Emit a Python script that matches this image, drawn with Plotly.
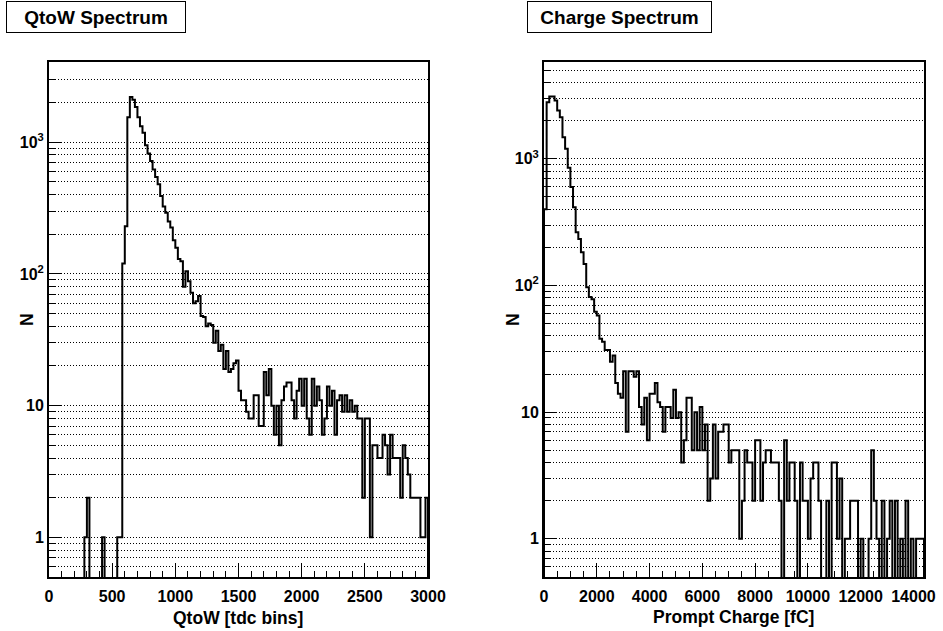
import numpy as np
import plotly.graph_objects as go

# ---------------- data ----------------
QTOW_BIN_WIDTH = 20          # tdc bins per histogram bin, 0..3000
QTOW_COUNTS = [
    0, 0, 0, 0, 0, 0, 0, 0, 0, 0, 0, 0, 0, 0,          # 0 - 260
    1, 2, 0, 0, 0, 0, 0, 1, 0, 0, 0, 0, 0, 1, 1,       # 280 - 560
    120, 230, 1550, 2200, 2100, 1850, 1550, 1320, 1180, 950,   # 580 - 760
    820, 720, 620, 545, 480, 390, 325, 292, 250, 225,          # 780 - 960
    180, 158, 130, 125, 80, 105, 88, 72, 60, 62,               # 980 - 1160
    68, 48, 47, 40, 42, 41, 30, 37, 26, 29,                    # 1180 - 1360
    19, 26, 18, 19, 21, 22, 13, 11, 11, 9,                     # 1380 - 1560
    8, 8, 12, 12, 7, 7, 18, 12, 19, 10,                        # 1580 - 1760
    6, 10, 5, 11, 14, 15, 15, 11, 8, 13,                       # 1780 - 1960
    16, 10, 16, 8, 6, 16, 10, 14, 11, 6,                       # 1980 - 2160
    8, 14, 10, 13, 6, 11, 12, 9, 12, 9,                        # 2180 - 2360
    11, 9, 10, 8, 8, 2, 8, 8, 1, 5,                            # 2380 - 2560
    5, 4, 4, 6, 5, 3, 6, 4, 4, 4,                              # 2580 - 2760
    2, 5, 4, 3, 2, 2, 2, 2, 1, 1, 2,                           # 2780 - 2980
]

CHARGE_BIN_WIDTH = 100       # fC per histogram bin, 0..14400
CHARGE_COUNTS = [
    400, 2800, 3100, 3100, 2880, 2400, 2130, 1480, 1200, 850,  # 0 - 900
    600, 415, 263, 233, 183, 148, 97, 81, 78, 62,              # 1000 - 1900
    58, 38, 36, 31, 31, 25, 28, 17, 14, 13,                    # 2000 - 2900
    21, 7, 21, 21, 19, 21, 11, 8, 13, 6,                       # 3000 - 3900
    14, 14, 17, 12, 11, 7, 11, 11, 9, 15,                      # 4000 - 4900
    9, 10, 4, 6, 13, 13, 5, 10, 5, 11,                         # 5000 - 5900
    5, 8, 2, 3, 8, 3, 7, 7, 8, 8,                              # 6000 - 6900
    4, 5, 5, 5, 1, 2, 5, 4, 4, 2,                              # 7000 - 7900
    6, 6, 2, 4, 5, 5, 4, 4, 4, 2,                              # 8000 - 8900
    0, 6, 2, 4, 4, 2, 0, 4, 2, 2,                              # 9000 - 9900
    1, 3, 4, 4, 2, 0, 0, 2, 0, 4,                              # 10000 - 10900
    4, 1, 3, 0, 1, 1, 2, 2, 2, 0,                              # 11000 - 11900
    1, 0, 0, 1, 5, 2, 1, 0, 2, 0,                              # 12000 - 12900
    1, 2, 0, 2, 0, 1, 0, 2, 0, 1,                              # 13000 - 13900
    0, 1, 1, 1,                                                # 14000 - 14300
]

QTOW_XTICKS = [0, 500, 1000, 1500, 2000, 2500, 3000]
CHARGE_XTICKS = [0, 2000, 4000, 6000, 8000, 10000, 12000, 14000]
Y_MAJOR = [1, 10, 100, 1000]
Y_MAJOR_TEXT = ["1", "10", "10<sup>2</sup>", "10<sup>3</sup>"]
Y_MINOR = [m * 10.0 ** k for k in range(-1, 4) for m in range(2, 10)]

# ---------------- helpers ----------------
FLOOR = 0.1  # empty bins drop below the visible range, as in ROOT


def step_xy(counts, width):
    edges = np.arange(len(counts) + 1) * width
    y = [c if c > 0 else FLOOR for c in counts]
    xs = [edges[0]] + list(edges) + [edges[-1]]
    ys = [FLOOR] + y + [y[-1], FLOOR]
    return xs, ys


W, H = 943, 631
FONT = "Liberation Sans, Arial, sans-serif"

fig = go.Figure()

qx, qy = step_xy(QTOW_COUNTS, QTOW_BIN_WIDTH)
cx, cy = step_xy(CHARGE_COUNTS, CHARGE_BIN_WIDTH)

fig.add_trace(go.Scatter(x=qx, y=qy, mode="lines", line=dict(color="black", width=2, shape="hv"),
                         xaxis="x", yaxis="y", showlegend=False, hoverinfo="skip"))
fig.add_trace(go.Scatter(x=cx, y=cy, mode="lines", line=dict(color="black", width=2, shape="hv"),
                         xaxis="x2", yaxis="y2", showlegend=False, hoverinfo="skip"))

y_dom = [1 - 577 / H, 1 - 62 / H]
tickfont = dict(family=FONT, size=16, color="black", weight="bold")
GRIDDASH = "1px,2px"


def xaxis_cfg(domain, rng, ticks, minor_dtick, anchor):
    return dict(
        domain=domain, range=rng, anchor=anchor, automargin=False,
        tickmode="array", tickvals=ticks, ticktext=[str(t) for t in ticks],
        ticks="inside", ticklen=14, tickwidth=1, tickcolor="black",
        minor=dict(dtick=minor_dtick, ticks="inside", ticklen=6, tickwidth=1, tickcolor="black",
                   showgrid=False),
        showgrid=False, zeroline=False,
        showline=True, linecolor="black", linewidth=2, mirror=True,
        tickfont=tickfont, ticklabelstandoff=4,
    )


def yaxis_cfg(rng, anchor):
    return dict(
        domain=y_dom, type="log", range=rng, anchor=anchor, automargin=False,
        tickmode="array", tickvals=Y_MAJOR, ticktext=Y_MAJOR_TEXT,
        ticks="inside", ticklen=13, tickwidth=1, tickcolor="black",
        showgrid=True, gridcolor="black", gridwidth=1, griddash=GRIDDASH,
        minor=dict(tickmode="array", tickvals=Y_MINOR, ticks="inside", ticklen=7, tickwidth=1,
                   tickcolor="black", showgrid=True, gridcolor="black", gridwidth=1,
                   griddash=GRIDDASH),
        zeroline=False,
        showline=True, linecolor="black", linewidth=2, mirror=True,
        tickfont=tickfont,
    )


fig.update_layout(
    width=W, height=H, autosize=False,
    margin=dict(l=0, r=0, t=0, b=0, pad=0, autoexpand=False),
    paper_bgcolor="white", plot_bgcolor="white",
    xaxis=xaxis_cfg([49 / W, 428 / W], [0, 3000], QTOW_XTICKS, 100, "y"),
    yaxis=yaxis_cfg([np.log10(0.5), 3.609], "x"),
    xaxis2=xaxis_cfg([544 / W, 924 / W], [0, 14400], CHARGE_XTICKS, 500, "y2"),
    yaxis2=yaxis_cfg([np.log10(0.5), 3.764], "x2"),
    font=dict(family=FONT, color="black"),
)

annots = []
# title boxes
for text, x0, w in [("QtoW Spectrum", 6, 180), ("Charge Spectrum", 527, 185)]:
    annots.append(dict(
        text=text, xref="paper", yref="paper", x=x0 / W, y=1 - 1 / H,
        xanchor="left", yanchor="top", showarrow=False,
        width=w - 2, height=30, align="center", valign="middle",
        bordercolor="black", borderwidth=1, borderpad=0, bgcolor="white",
        font=dict(family=FONT, size=19, color="black", weight="bold"),
    ))
# axis titles
for text, x, y, ang in [("QtoW [tdc bins]", 238, 618, 0), ("Prompt Charge [fC]", 733, 617, 0),
                        ("N", 27, 320, -90), ("N", 513, 320, -90)]:
    annots.append(dict(
        text=text, xref="paper", yref="paper", x=x / W, y=1 - y / H,
        xanchor="center", yanchor="middle", showarrow=False, textangle=ang,
        font=dict(family=FONT, size=17.5, color="black", weight="bold"),
    ))
fig.update_layout(annotations=annots)

fig.write_html("out.html")
